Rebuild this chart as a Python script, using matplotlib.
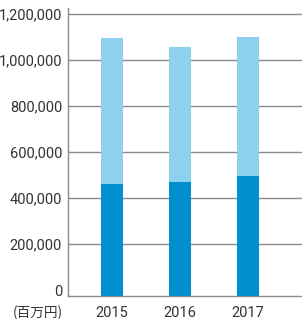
import matplotlib
matplotlib.use('Agg')
import matplotlib.pyplot as plt
from matplotlib.ticker import FuncFormatter

# データ (百万円)
years = ['2015', '2016', '2017']
lower_values = [462000, 471000, 497000]
totals = [1097000, 1058000, 1101000]
upper_values = [t - l for t, l in zip(totals, lower_values)]

yticks = [0, 200000, 400000, 600000, 800000, 1000000, 1200000]

DARK = '#0090d0'
LIGHT = '#8ed1ef'
GRID = '#8a8a8a'
TEXT = '#333333'

plt.rcParams['font.family'] = ['Roboto', 'Noto Sans CJK JP', 'DejaVu Sans']

fig = plt.figure(figsize=(3.02, 3.19), dpi=100)
ax = fig.add_axes([68 / 302, (319 - 296) / 319, (302 - 68) / 302, (296 - 8) / 319])

# 元の図では軸線が0より少し下にある
y_bottom = -26000
x = range(len(years))
ax.bar(x, [l - y_bottom for l in lower_values], bottom=y_bottom, width=0.324,
       color=DARK, zorder=3)
ax.bar(x, upper_values, bottom=lower_values, width=0.324, color=LIGHT, zorder=3)

ax.set_xlim(-0.647, 2.794)
ax.set_ylim(y_bottom, 1200000 + (296 - 8 - 282) * 200000 / 46)
ax.set_yticks(yticks)
ax.yaxis.set_major_formatter(FuncFormatter(lambda v, p: f'{int(v):,}'))
ax.set_xticks(list(x))
ax.set_xticklabels(years)

ax.grid(axis='y', color=GRID, linewidth=1.0, zorder=0)
ax.set_axisbelow(True)
# 0のグリッド線は描かない
ax.yaxis.get_gridlines()[0].set_visible(False)

for s in ['top', 'right']:
    ax.spines[s].set_visible(False)
ax.spines['left'].set_color(GRID)
ax.spines['bottom'].set_color(GRID)
ax.spines['left'].set_linewidth(1.0)
ax.spines['bottom'].set_linewidth(1.0)

ax.tick_params(axis='both', length=0, labelsize=10.5, colors=TEXT)
ax.tick_params(axis='y', pad=4.3)
ax.tick_params(axis='x', pad=7)

fig.text(63 / 302, 1 - 313 / 319, '(百万円)', ha='right', va='center',
         fontsize=9.8, color=TEXT, family=['Noto Sans CJK JP', 'DejaVu Sans'])

plt.savefig('out.png', dpi=100)
